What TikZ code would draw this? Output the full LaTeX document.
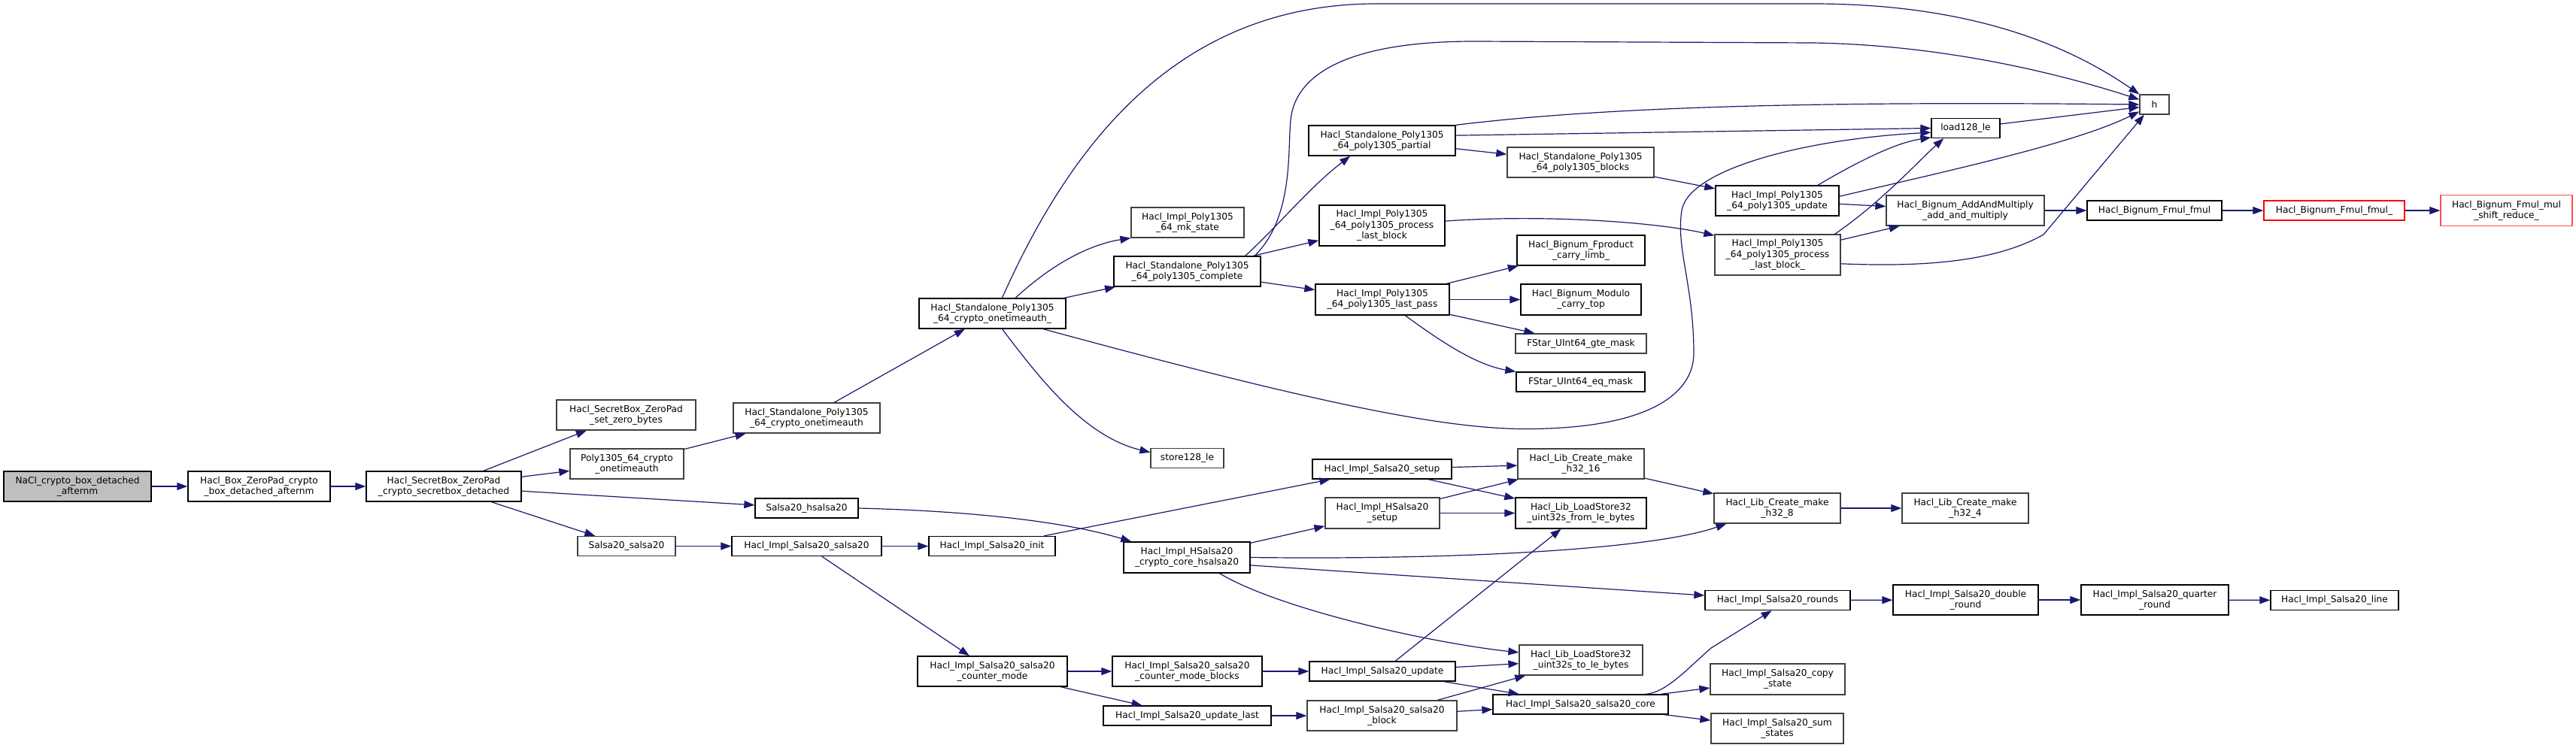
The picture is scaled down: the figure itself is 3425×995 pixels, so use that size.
\documentclass[tikz,border=0pt]{standalone}
\usepackage{fontspec}
\setmainfont{DejaVu Sans}
\usetikzlibrary{arrows.meta}
\definecolor{edgec}{HTML}{191970}
\definecolor{greyb}{HTML}{404040}
\definecolor{rootg}{HTML}{BFBFBF}
\definecolor{redb}{HTML}{FF0000}
\definecolor{redc}{HTML}{FF5050}
\newcommand{\dxfont}{\fontsize{12.2}{14.2}\selectfont}
\begin{document}
\begin{tikzpicture}[x=1pt,y=-1pt,
  box/.style={draw=black,line width=1.3pt,fill=white,inner sep=0pt,align=center,font=\dxfont},
  gbox/.style={box,draw=greyb},
  conn/.style={draw=edgec,line width=1.2pt,-{Triangle[length=14pt,width=10pt]}}]
\fill[white] (0,0) rectangle (3425,995);
\useasboundingbox (0,0) rectangle (3425,995);
% column 1-3
\node[box,fill=rootg,minimum width=196,minimum height=40] (nacl) at (103,647) {NaCl\_crypto\_box\_detached\\\_afternm};
\node[box,minimum width=189,minimum height=40] (boxzp) at (344.5,647) {Hacl\_Box\_ZeroPad\_crypto\\\_box\_detached\_afternm};
\node[box,minimum width=206,minimum height=40] (sbdet) at (590,647) {Hacl\_SecretBox\_ZeroPad\\\_crypto\_secretbox\_detached};
% column 4
\node[gbox,minimum width=185,minimum height=40] (setzero) at (832.5,552) {Hacl\_SecretBox\_ZeroPad\\\_set\_zero\_bytes};
\node[gbox,minimum width=151,minimum height=40] (p1305ota) at (833.5,617) {Poly1305\_64\_crypto\\\_onetimeauth};
\node[gbox,minimum width=130,minimum height=26] (s20salsa) at (833,726.5) {Salsa20\_salsa20};
% column 5
\node[gbox,minimum width=195,minimum height=40] (sota) at (1072.5,556) {Hacl\_Standalone\_Poly1305\\\_64\_crypto\_onetimeauth};
\node[box,minimum width=137,minimum height=26] (s20hsalsa) at (1072.5,676) {Salsa20\_hsalsa20};
\node[box,minimum width=199,minimum height=26] (implsalsa) at (1072.5,726.5) {Hacl\_Impl\_Salsa20\_salsa20};
% column 6
\node[box,minimum width=195,minimum height=40] (sotab) at (1319.5,417) {Hacl\_Standalone\_Poly1305\\\_64\_crypto\_onetimeauth\_};
\node[box,minimum width=168,minimum height=26] (init) at (1319,726.5) {Hacl\_Impl\_Salsa20\_init};
\node[box,minimum width=199,minimum height=40] (countermode) at (1319.5,893) {Hacl\_Impl\_Salsa20\_salsa20\\\_counter\_mode};
% column 7
\node[gbox,minimum width=150,minimum height=40] (mkstate) at (1579,296) {Hacl\_Impl\_Poly1305\\\_64\_mk\_state};
\node[box,minimum width=195,minimum height=40] (complete) at (1578.5,361) {Hacl\_Standalone\_Poly1305\\\_64\_poly1305\_complete};
\node[gbox,minimum width=97,minimum height=26] (store128) at (1578.5,609.5) {store128\_le};
\node[box,minimum width=168,minimum height=41] (coreh) at (1578,741.5) {Hacl\_Impl\_HSalsa20\\\_crypto\_core\_hsalsa20};
\node[box,minimum width=199,minimum height=40] (cmblocks) at (1578.5,893) {Hacl\_Impl\_Salsa20\_salsa20\\\_counter\_mode\_blocks};
\node[box,minimum width=223,minimum height=26] (updatelast) at (1578.5,952) {Hacl\_Impl\_Salsa20\_update\_last};
% column 8
\node[box,minimum width=195,minimum height=40] (partial) at (1837.5,187) {Hacl\_Standalone\_Poly1305\\\_64\_poly1305\_partial};
\node[box,minimum width=167,minimum height=54] (plb) at (1837.5,300) {Hacl\_Impl\_Poly1305\\\_64\_poly1305\_process\\\_last\_block};
\node[box,minimum width=178,minimum height=41] (lastpass) at (1838,398.5) {Hacl\_Impl\_Poly1305\\\_64\_poly1305\_last\_pass};
\node[box,minimum width=185,minimum height=26] (s20setup) at (1837.5,624) {Hacl\_Impl\_Salsa20\_setup};
\node[gbox,minimum width=152,minimum height=41] (hs20setup) at (1838,682.5) {Hacl\_Impl\_HSalsa20\\\_setup};
\node[box,minimum width=194,minimum height=26] (s20update) at (1838,893) {Hacl\_Impl\_Salsa20\_update};
\node[gbox,minimum width=199,minimum height=40] (s20block) at (1837.5,952) {Hacl\_Impl\_Salsa20\_salsa20\\\_block};
% column 9
\node[gbox,minimum width=195,minimum height=40] (blocks) at (2101.5,216) {Hacl\_Standalone\_Poly1305\\\_64\_poly1305\_blocks};
\node[box,minimum width=170,minimum height=40] (carrylimb) at (2102,333) {Hacl\_Bignum\_Fproduct\\\_carry\_limb\_};
\node[box,minimum width=160,minimum height=41] (carrytop) at (2102,398.5) {Hacl\_Bignum\_Modulo\\\_carry\_top};
\node[gbox,minimum width=174,minimum height=26] (gtemask) at (2102,457) {FStar\_UInt64\_gte\_mask};
\node[box,minimum width=171,minimum height=26] (eqmask) at (2101.5,508) {FStar\_UInt64\_eq\_mask};
\node[gbox,minimum width=168,minimum height=40] (h3216) at (2102,617) {Hacl\_Lib\_Create\_make\\\_h32\_16};
\node[box,minimum width=174,minimum height=41] (fromle) at (2102,682.5) {Hacl\_Lib\_LoadStore32\\\_uint32s\_from\_le\_bytes};
\node[gbox,minimum width=164,minimum height=40] (tole) at (2102,878) {Hacl\_Lib\_LoadStore32\\\_uint32s\_to\_le\_bytes};
\node[box,minimum width=233,minimum height=26] (s20core) at (2101.5,937) {Hacl\_Impl\_Salsa20\_salsa20\_core};
% column 10
\node[box,minimum width=164,minimum height=40] (p1305update) at (2363,267) {Hacl\_Impl\_Poly1305\\\_64\_poly1305\_update};
\node[gbox,minimum width=167,minimum height=54] (plbb) at (2363.5,339) {Hacl\_Impl\_Poly1305\\\_64\_poly1305\_process\\\_last\_block\_};
\node[gbox,minimum width=168,minimum height=40] (h328) at (2363,676) {Hacl\_Lib\_Create\_make\\\_h32\_8};
\node[box,minimum width=193,minimum height=26] (rounds) at (2363.5,798.5) {Hacl\_Impl\_Salsa20\_rounds};
\node[gbox,minimum width=179,minimum height=41] (copystate) at (2363.5,903.5) {Hacl\_Impl\_Salsa20\_copy\\\_state};
\node[gbox,minimum width=176,minimum height=40] (sumstates) at (2363,969) {Hacl\_Impl\_Salsa20\_sum\\\_states};
% column 11
\node[box,minimum width=91,minimum height=26] (load128) at (2613.5,170.5) {load128\_le};
\node[gbox,minimum width=210,minimum height=40] (addmul) at (2613,280) {Hacl\_Bignum\_AddAndMultiply\\\_add\_and\_multiply};
\node[gbox,minimum width=168,minimum height=40] (h324) at (2613,676) {Hacl\_Lib\_Create\_make\\\_h32\_4};
\node[box,minimum width=193,minimum height=40] (doubleround) at (2613.5,798) {Hacl\_Impl\_Salsa20\_double\\\_round};
% column 12
\node[gbox,minimum width=39,minimum height=26] (h) at (2864.5,139) {h};
\node[box,minimum width=179,minimum height=26] (fmul) at (2864.5,280) {Hacl\_Bignum\_Fmul\_fmul};
\node[box,minimum width=196,minimum height=40] (quarter) at (2865,798) {Hacl\_Impl\_Salsa20\_quarter\\\_round};
% column 13-14
\node[box,draw=redb,minimum width=187,minimum height=26] (fmulb) at (3103.5,280) {Hacl\_Bignum\_Fmul\_fmul\_};
\node[box,minimum width=170,minimum height=26] (line) at (3104,798.5) {Hacl\_Impl\_Salsa20\_line};
\node[box,draw=redc,minimum width=175,minimum height=41] (mulshift) at (3332.5,280) {Hacl\_Bignum\_Fmul\_mul\\\_shift\_reduce\_};
% edges
\draw[conn] (nacl) -- (boxzp);
\draw[conn] (boxzp) -- (sbdet);
\draw[conn] (sbdet) -- (setzero);
\draw[conn] (sbdet) -- (p1305ota);
\draw[conn] (sbdet) -- (s20hsalsa);
\draw[conn] (sbdet) -- (s20salsa);
\draw[conn] (p1305ota) -- (sota);
\draw[conn] (sota) -- (sotab);
\draw[conn] (sotab.58) .. controls (1420,200) and (1560,5) .. (1830,5) -- (2410,5) .. controls (2620,5) and (2750,60) .. (h.north west);
\draw[conn] (sotab.34) .. controls (1400,350) and (1450,325) .. (mkstate.south west);
\draw[conn] (sotab) -- (complete);
\draw[conn] (sotab.-17) .. controls (1800,550) and (1950,575) .. (2056,570) .. controls (2200,565) and (2252,520) .. (2252,470) .. controls (2252,380) and (2228,330) .. (2236,280) .. controls (2245,225) and (2400,185) .. (load128.187);
\draw[conn] (sotab.-58) .. controls (1380,500) and (1440,580) .. (store128.171);
\draw[conn] (complete.13) .. controls (1720,290) and (1712,200) .. (1716,160) .. controls (1722,95) and (1800,55) .. (1960,55) -- (2410,57) .. controls (2600,60) and (2760,105) .. (h.162);
\draw[conn] (complete.15) .. controls (1700,300) and (1740,250) .. (partial.206);
\draw[conn] (complete) -- (plb);
\draw[conn] (complete) -- (lastpass);
\draw[conn] (partial.north east) .. controls (2150,140) and (2450,135) .. (h.west);
\draw[conn] (partial.4) -- (load128.west);
\draw[conn] (partial) -- (blocks);
\draw[conn] (blocks) -- (p1305update);
\draw[conn] (p1305update.21) .. controls (2470,215) and (2520,190) .. (load128.195);
\draw[conn] (p1305update.4) .. controls (2600,225) and (2760,190) .. (h.205);
\draw[conn] (p1305update) -- (addmul);
\draw[conn] (plb.4) .. controls (2050,285) and (2200,295) .. (plbb.163);
\draw[conn] (plbb) -- (addmul);
\draw[conn] (plbb.20) .. controls (2500,270) and (2550,215) .. (load128.205);
\draw[conn] (plbb.-8) .. controls (2550,355) and (2650,350) .. (2717,312) -- (h.225);
\draw[conn] (lastpass) -- (carrylimb);
\draw[conn] (lastpass) -- (carrytop);
\draw[conn] (lastpass) -- (gtemask);
\draw[conn] (lastpass.-35) .. controls (1910,450) and (1960,485) .. (eqmask.north west);
\draw[conn] (addmul) -- (fmul);
\draw[conn] (fmul) -- (fmulb);
\draw[conn] (fmulb) -- (mulshift);
\draw[conn] (load128) -- (h.190);
\draw[conn] (s20hsalsa.east) .. controls (1300,680) and (1420,695) .. (coreh.164);
\draw[conn] (s20salsa) -- (implsalsa);
\draw[conn] (implsalsa) -- (init);
\draw[conn] (implsalsa) -- (countermode);
\draw[conn] (init) -- (s20setup);
\draw[conn] (coreh) -- (hs20setup);
\draw[conn] (coreh.east) .. controls (1950,745) and (2200,730) .. (h328.197);
\draw[conn] (coreh.-7) -- (rounds);
\draw[conn] (coreh.-26) .. controls (1700,810) and (1900,855) .. (tole.173);
\draw[conn] (s20setup) -- (h3216);
\draw[conn] (s20setup) -- (fromle);
\draw[conn] (hs20setup) -- (h3216);
\draw[conn] (hs20setup) -- (fromle);
\draw[conn] (h3216) -- (h328);
\draw[conn] (h328) -- (h324);
\draw[conn] (rounds) -- (doubleround);
\draw[conn] (doubleround) -- (quarter);
\draw[conn] (quarter) -- (line);
\draw[conn] (countermode) -- (cmblocks);
\draw[conn] (countermode) -- (updatelast);
\draw[conn] (cmblocks) -- (s20update);
\draw[conn] (updatelast) -- (s20block);
\draw[conn] (s20update) -- (fromle);
\draw[conn] (s20update) -- (tole);
\draw[conn] (s20update) -- (s20core);
\draw[conn] (s20block) -- (tole);
\draw[conn] (s20block) -- (s20core);
\draw[conn] (s20core.9) .. controls (2215,922) and (2245,888) .. (2275,862) -- (rounds.-120);
\draw[conn] (s20core) -- (copystate);
\draw[conn] (s20core) -- (sumstates);
\end{tikzpicture}
\end{document}
